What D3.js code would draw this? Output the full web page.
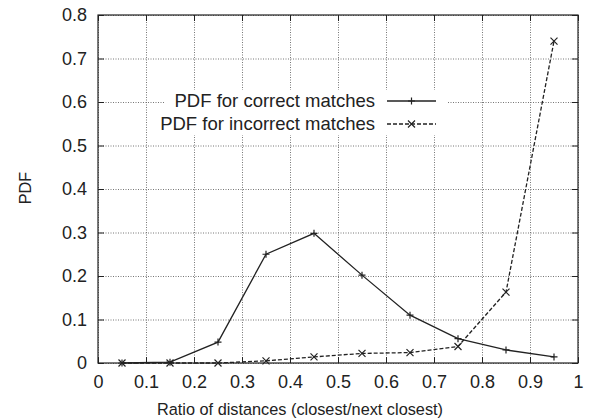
<!DOCTYPE html>
<html>
<head>
<meta charset="utf-8">
<script src="https://cdn.jsdelivr.net/npm/d3@7"></script>
<style>
  body { margin: 0; background: #fff; }
  text { font-family: "Liberation Sans", Arial, sans-serif; fill: #222; }
</style>
</head>
<body>
<div id="container"></div>
<script>
const WIDTH = 589;
const HEIGHT = 420;
const MARGIN = { top: 15, right: 11, bottom: 57, left: 98 };
const INNER_WIDTH = WIDTH - MARGIN.left - MARGIN.right;
const INNER_HEIGHT = HEIGHT - MARGIN.top - MARGIN.bottom;

// Data
const ratios = [0.05, 0.15, 0.25, 0.35, 0.45, 0.55, 0.65, 0.75, 0.85, 0.95];
const correctPdf = [0, 0.002, 0.048, 0.25, 0.298, 0.202, 0.11, 0.056, 0.03, 0.014];
const incorrectPdf = [0, 0, 0, 0.005, 0.014, 0.022, 0.024, 0.038, 0.163, 0.74];
const xTicks = [0, 0.1, 0.2, 0.3, 0.4, 0.5, 0.6, 0.7, 0.8, 0.9, 1];
const yTicks = [0, 0.1, 0.2, 0.3, 0.4, 0.5, 0.6, 0.7, 0.8];
const legendLabels = ['PDF for correct matches', 'PDF for incorrect matches'];

const svg = d3.select('#container').append('svg')
    .attr('width', WIDTH)
    .attr('height', HEIGHT)
    .append('g')
    .attr('transform', 'translate(' + MARGIN.left + ',' + MARGIN.top + ')');

const x = d3.scaleLinear().domain([0, 1]).range([0, INNER_WIDTH]);
const y = d3.scaleLinear().domain([0, 0.8]).range([INNER_HEIGHT, 0]);

// Grid
const xAxisGrid = d3.axisBottom(x).tickValues(xTicks).tickSize(-INNER_HEIGHT).tickFormat('');
const yAxisGrid = d3.axisLeft(y).tickValues(yTicks).tickSize(-INNER_WIDTH).tickFormat('');
svg.append('g')
    .attr('class', 'grid')
    .attr('transform', 'translate(0,' + INNER_HEIGHT + ')')
    .call(xAxisGrid);
svg.append('g')
    .attr('class', 'grid')
    .call(yAxisGrid);
svg.selectAll('.grid .domain').remove();
svg.selectAll('.grid line')
    .attr('stroke', '#666')
    .attr('stroke-width', 0.9)
    .attr('stroke-dasharray', '1,1.5');

// Legend box hides grid under it
svg.append('rect')
    .attr('x', 164 - MARGIN.left).attr('y', 90 - MARGIN.top)
    .attr('width', 283).attr('height', 45)
    .attr('fill', '#fff');

// Axes (ticks inside, mirrored)
const xAxis = d3.axisBottom(x).tickValues(xTicks).tickSizeInner(-6).tickSizeOuter(0)
    .tickPadding(12).tickFormat(d => d === 0 || d === 1 ? d3.format('d')(d) : d3.format('.1f')(d));
const yAxis = d3.axisLeft(y).tickValues(yTicks).tickSizeInner(-6).tickSizeOuter(0)
    .tickPadding(11).tickFormat(d => d === 0 ? '0' : d3.format('.1f')(d));
svg.append('g')
    .attr('class', 'axis')
    .attr('transform', 'translate(0,' + INNER_HEIGHT + ')')
    .call(xAxis);
svg.append('g')
    .attr('class', 'axis')
    .call(yAxis);
svg.append('g')
    .attr('class', 'axis')
    .call(d3.axisTop(x).tickValues(xTicks).tickSizeInner(-6).tickSizeOuter(0).tickFormat(''));
svg.append('g')
    .attr('class', 'axis')
    .attr('transform', 'translate(' + INNER_WIDTH + ',0)')
    .call(d3.axisRight(y).tickValues(yTicks).tickSizeInner(-6).tickSizeOuter(0).tickFormat(''));
svg.selectAll('.axis .domain').attr('stroke', 'none');
svg.selectAll('.axis line').attr('stroke', '#222');
svg.selectAll('.axis text').attr('font-size', 18).attr('fill', '#222')
    .attr('font-family', '"Liberation Sans", Arial, sans-serif');

svg.append('rect')
    .attr('width', INNER_WIDTH).attr('height', INNER_HEIGHT)
    .attr('fill', 'none').attr('stroke', '#222').attr('stroke-width', 1.2);

// Lines
const line = d3.line().x(d => x(d[0])).y(d => y(d[1]));
const correct = ratios.map((r, i) => [r, correctPdf[i]]);
const incorrect = ratios.map((r, i) => [r, incorrectPdf[i]]);

svg.append('path').datum(correct)
    .attr('d', line).attr('fill', 'none')
    .attr('stroke', '#222').attr('stroke-width', 1.3);
svg.append('path').datum(incorrect)
    .attr('d', line).attr('fill', 'none')
    .attr('stroke', '#222').attr('stroke-width', 1.3)
    .attr('stroke-dasharray', '4,2');

function drawPlus(g, cx, cy) {
    g.append('path')
        .attr('d', 'M' + (cx - 3.5) + ',' + cy + 'H' + (cx + 3.5) + 'M' + cx + ',' + (cy - 3.5) + 'V' + (cy + 3.5))
        .attr('stroke', '#222').attr('stroke-width', 1.2);
}
function drawX(g, cx, cy) {
    g.append('path')
        .attr('d', 'M' + (cx - 3.5) + ',' + (cy - 3.5) + 'L' + (cx + 3.5) + ',' + (cy + 3.5) +
            'M' + (cx - 3.5) + ',' + (cy + 3.5) + 'L' + (cx + 3.5) + ',' + (cy - 3.5))
        .attr('stroke', '#222').attr('stroke-width', 1.2);
}
correct.forEach(d => drawPlus(svg, x(d[0]), y(d[1])));
incorrect.forEach(d => drawX(svg, x(d[0]), y(d[1])));

// Legend
const legend = svg.append('g').attr('transform', 'translate(' + (375 - MARGIN.left) + ',' + (101 - MARGIN.top) + ')');
legendLabels.forEach((label, i) => {
    const row = legend.append('g').attr('transform', 'translate(0,' + (i * 23) + ')');
    row.append('text')
        .attr('text-anchor', 'end').attr('dy', '0.35em')
        .attr('font-size', 18.5).text(label);
    row.append('line')
        .attr('x1', 12).attr('x2', 61).attr('y1', 0).attr('y2', 0)
        .attr('stroke', '#222').attr('stroke-width', 1.3)
        .attr('stroke-dasharray', i === 0 ? null : '4,2');
    if (i === 0) drawPlus(row, 36.5, 0); else drawX(row, 36.5, 0);
});

// Axis titles
svg.append('text')
    .attr('x', 300 - MARGIN.left).attr('y', 415 - MARGIN.top)
    .attr('text-anchor', 'middle').attr('font-size', 16.3)
    .text('Ratio of distances (closest/next closest)');
svg.append('text')
    .attr('transform', 'translate(' + (31 - MARGIN.left) + ',' + (188 - MARGIN.top) + ') rotate(-90)')
    .attr('text-anchor', 'middle').attr('font-size', 16.3)
    .text('PDF');
</script>
</body>
</html>
